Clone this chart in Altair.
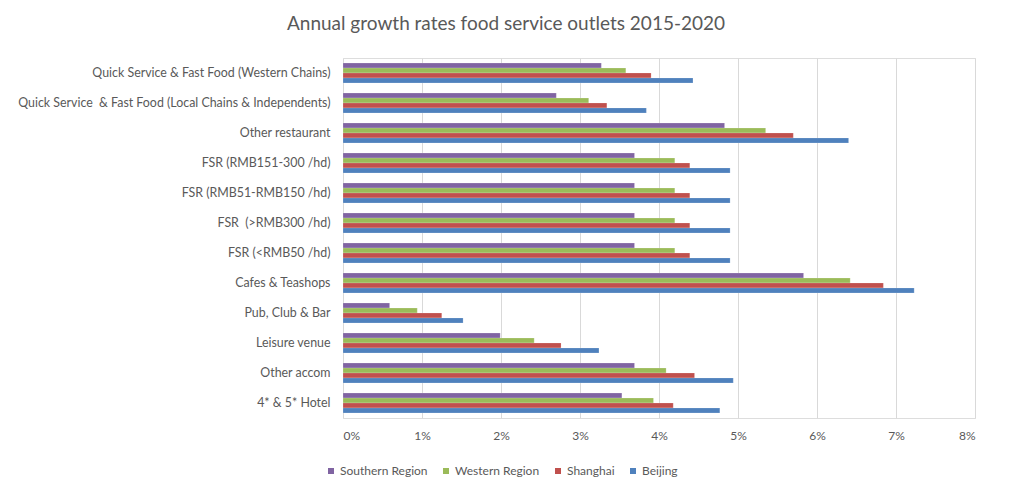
import altair as alt
import pandas as pd

categories = [
    "Quick Service & Fast Food (Western Chains)",
    "Quick Service \u00a0& Fast Food (Local Chains & Independents)",
    "Other restaurant",
    "FSR (RMB151-300 /hd)",
    "FSR (RMB51-RMB150 /hd)",
    "FSR \u00a0(>RMB300 /hd)",
    "FSR (<RMB50 /hd)",
    "Cafes & Teashops",
    "Pub, Club & Bar",
    "Leisure venue",
    "Other accom",
    "4* & 5* Hotel",
]
series = ["Southern Region", "Western Region", "Shanghai", "Beijing"]
colors = ["#8064A2", "#9BBB59", "#C0504D", "#4F81BD"]

southern = [3.27, 2.70, 4.83, 3.69, 3.69, 3.69, 3.69, 5.83, 0.59, 1.99, 3.69, 3.53]
western = [3.58, 3.11, 5.35, 4.20, 4.20, 4.20, 4.20, 6.42, 0.94, 2.42, 4.09, 3.93]
shanghai = [3.90, 3.34, 5.70, 4.39, 4.39, 4.39, 4.39, 6.84, 1.25, 2.76, 4.45, 4.18]
beijing = [4.43, 3.84, 6.40, 4.90, 4.90, 4.90, 4.90, 7.23, 1.52, 3.24, 4.94, 4.77]

rows = []
for name, vals in zip(series, [southern, western, shanghai, beijing]):
    for c, v in zip(categories, vals):
        rows.append({"category": c, "series": name, "value": v / 100})
df = pd.DataFrame(rows)

FONT = "Lato"
GREY = "#595959"

chart = (
    alt.Chart(df)
    .mark_bar(stroke="white", strokeOpacity=0.35, strokeWidth=0.5)
    .encode(
        y=alt.Y(
            "category:N",
            sort=categories,
            title=None,
            scale=alt.Scale(paddingInner=0.34, paddingOuter=0.17),
            axis=alt.Axis(
                domain=False,
                ticks=False,
                labelFont=FONT,
                labelFontSize=12.4,
                labelColor=GREY,
                labelPadding=13,
                labelLimit=400,
            ),
        ),
        x=alt.X(
            "value:Q",
            title=None,
            scale=alt.Scale(domain=[0, 0.08]),
            axis=alt.Axis(
                format=".0%",
                values=[0, 0.01, 0.02, 0.03, 0.04, 0.05, 0.06, 0.07, 0.08],
                domain=False,
                ticks=False,
                grid=True,
                gridColor="#D9D9D9",
                gridWidth=1,
                labelFont=FONT,
                labelFontSize=12,
                labelColor=GREY,
                labelPadding=12,
            ),
        ),
        yOffset=alt.YOffset(
            "series:N", sort=series, scale=alt.Scale(paddingInner=0, paddingOuter=0)
        ),
        color=alt.Color(
            "series:N",
            sort=series,
            scale=alt.Scale(domain=series, range=colors),
            legend=alt.Legend(
                title=None,
                orient="none",
                direction="horizontal",
                legendX=-18,
                legendY=407,
                symbolType="square",
                symbolSize=36,
                symbolStrokeWidth=0,
                labelFont=FONT,
                labelFontSize=12,
                labelColor=GREY,
                columnPadding=12,
                labelOffset=3,
            ),
        ),
    )
    .properties(
        width=632,
        height=360,
        padding={"left": 343, "top": 58, "right": 45, "bottom": 59},
        autosize=alt.AutoSizeParams(type="none"),
        title=alt.TitleParams(
            "Annual growth rates food service outlets 2015-2020",
            font=FONT,
            fontSize=19,
            fontWeight="normal",
            color=GREY,
            anchor="middle",
            dx=-153,
            offset=24,
        ),
    )
    .configure_view(stroke=None)
    .configure(background="white")
)

chart.save("out.html", embed_options={"renderer": "svg", "actions": False})
